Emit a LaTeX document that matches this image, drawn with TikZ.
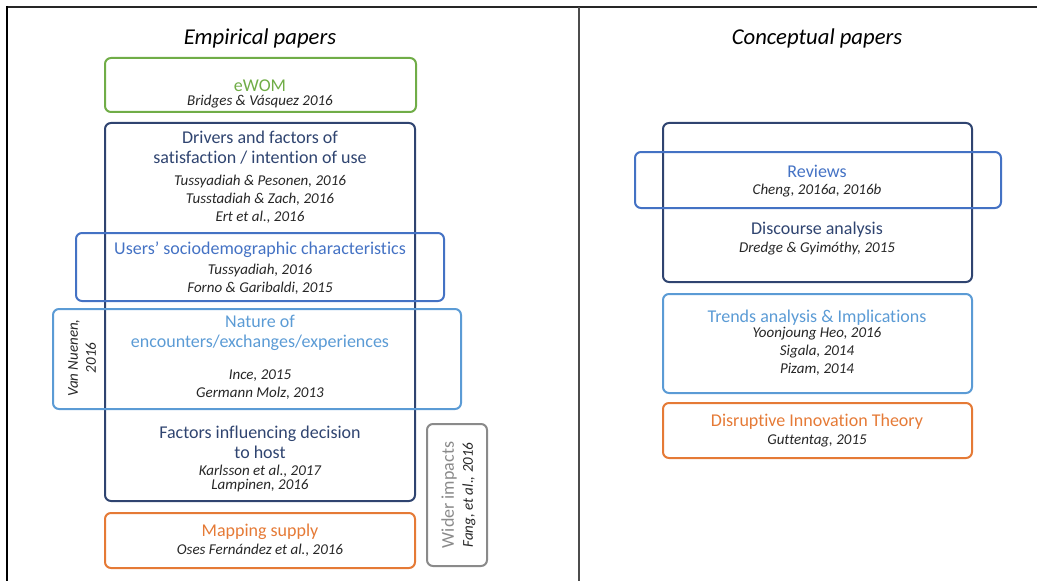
\documentclass[tikz,border=0pt]{standalone}
\usepackage{fontspec}
\setmainfont[Ligatures=NoCommon]{Carlito}
\usetikzlibrary{positioning}
\definecolor{navy}{HTML}{2F4470}
\definecolor{midblue}{HTML}{4472C4}
\definecolor{skyblue}{HTML}{5B9BD5}
\definecolor{leaf}{HTML}{70AD47}
\definecolor{amber}{HTML}{E57A36}
\definecolor{slate}{HTML}{8A8A8A}
\definecolor{inkgray}{HTML}{262626}
\tikzset{panel/.style={line width=1.5pt,rounded corners=4.5pt},hd/.style={font=\fontsize{13.5}{15}\selectfont,align=center,inner sep=0pt},cite/.style={font=\fontsize{11.25}{13.5}\selectfont\itshape,text=inkgray,align=center,inner sep=0pt},ttl/.style={font=\fontsize{17}{20}\selectfont\itshape,inner sep=0pt}}

\begin{document}
\begin{tikzpicture}[x=0.75pt,y=-0.75pt]
\useasboundingbox (0,0) rectangle (1037,581);
% frame and divider
\draw[black!85,line width=1.5pt] (6,7) -- (1037,7);
\draw[line width=2.2pt] (7,6) -- (7,581);
\draw[black!70,line width=1.5pt] (579,7) -- (579,581);
% empirical papers
\node[ttl] (emp) at (260,38) {Empirical papers};
\draw[panel,leaf] (105,58) rectangle (416,112);
\node[hd,text=leaf] (ewom) at (260,86) {eWOM};
\node[cite] (ewomref) at (260,102) {Bridges \& Vásquez 2016};
\draw[panel,navy] (105,123) rectangle (415,501);
\node[hd,text=navy] (drivers) at (260,148) {Drivers and factors of\\satisfaction / intention of use};
\node[cite] (driversref) at (260,199) {Tussyadiah \& Pesonen, 2016\\Tusstadiah \& Zach, 2016\\Ert et al., 2016};
\draw[panel,midblue] (76,233) rectangle (444,301);
\node[hd,text=midblue] (users) at (260,250) {Users’ sociodemographic characteristics};
\node[cite] (usersref) at (260,279) {Tussyadiah, 2016\\Forno \& Garibaldi, 2015};
\draw[panel,skyblue] (53,309) rectangle (461,409);
\node[hd,text=skyblue] (nature) at (260,333) {Nature of\\encounters/exchanges/experiences};
\node[cite] (natureref) at (260,385) {Ince, 2015\\Germann Molz, 2013};
\node[cite,rotate=90] (vann) at (82,358) {Van Nuenen,\\2016};
\node[hd,text=navy] (host) at (260,442) {Factors influencing decision\\to host};
\node[cite] (hostref) at (260,478) {Karlsson et al., 2017\\[-3pt]Lampinen, 2016};
\draw[panel,amber] (105,513) rectangle (415,568);
\node[hd,text=amber] (supply) at (260,532) {Mapping supply};
\node[cite] (supplyref) at (260,550) {Oses Fernández et al., 2016};
\draw[panel,slate] (427,424) rectangle (487,566);
\node[hd,text=slate,rotate=90] (wider) at (449,495) {Wider impacts};
\node[cite,rotate=90] (widerref) at (469,495) {Fang, et al., 2016};
% conceptual papers
\node[ttl] (con) at (817,38) {Conceptual papers};
\draw[panel,navy] (663,123) rectangle (972,282);
\draw[panel,midblue] (635,152) rectangle (1001,208);
\node[hd,text=midblue] (rev) at (817,171) {Reviews};
\node[cite] (revref) at (817,191) {Cheng, 2016a, 2016b};
\node[hd,text=navy] (disc) at (817,230) {Discourse analysis};
\node[cite] (discref) at (817,249) {Dredge \& Gyimóthy, 2015};
\draw[panel,skyblue] (663,294) rectangle (972,393);
\node[hd,text=skyblue] (trend) at (817,318) {Trends analysis \& Implications};
\node[cite] (trendref) at (817,351) {Yoonjoung Heo, 2016\\Sigala, 2014\\Pizam, 2014};
\draw[panel,amber] (663,403) rectangle (972,458);
\node[hd,text=amber] (dit) at (817,422) {Disruptive Innovation Theory};
\node[cite] (ditref) at (817,441) {Guttentag, 2015};
\end{tikzpicture}
\end{document}
